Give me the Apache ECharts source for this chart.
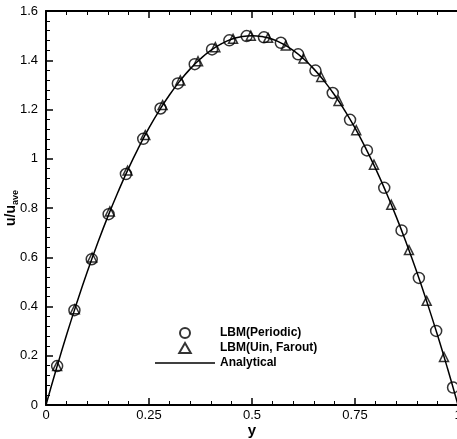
<!DOCTYPE html>
<html>
<head>
<meta charset="utf-8">
<script src="https://cdn.jsdelivr.net/npm/echarts@6/dist/echarts.min.js"></script>
<style>
html,body{margin:0;padding:0;background:#fff;}
#c{width:457px;height:439px;}
</style>
</head>
<body>
<div id="c"></div>
<script>
// Analytical profile
const anaY = [0,0.025,0.05,0.075,0.1,0.125,0.15,0.175,0.2,0.225,0.25,0.275,0.3,0.325,0.35,0.375,0.4,0.425,0.45,0.475,0.5,0.525,0.55,0.575,0.6,0.625,0.65,0.675,0.7,0.725,0.75,0.775,0.8,0.825,0.85,0.875,0.9,0.925,0.95,0.975,1];
const anaU = [0,0.146,0.285,0.416,0.54,0.656,0.765,0.866,0.96,1.046,1.125,1.196,1.26,1.316,1.365,1.406,1.44,1.466,1.485,1.496,1.5,1.496,1.485,1.466,1.44,1.406,1.365,1.316,1.26,1.196,1.125,1.046,0.96,0.866,0.765,0.656,0.54,0.416,0.285,0.146,0];
// LBM (Periodic) circles
const perY = [0.027,0.069,0.111,0.152,0.194,0.236,0.278,0.320,0.361,0.403,0.445,0.487,0.529,0.570,0.612,0.654,0.696,0.738,0.779,0.821,0.863,0.905,0.947,0.988];
const perU = [0.158,0.385,0.592,0.775,0.938,1.081,1.204,1.306,1.384,1.444,1.481,1.498,1.493,1.471,1.424,1.358,1.267,1.158,1.034,0.882,0.709,0.516,0.301,0.071];
// LBM (Uin, Farout) triangles
const uinY = [0.027,0.070,0.112,0.155,0.198,0.241,0.283,0.326,0.369,0.411,0.454,0.497,0.539,0.582,0.625,0.668,0.710,0.753,0.796,0.838,0.881,0.924,0.966];
const uinU = [0.158,0.389,0.599,0.786,0.952,1.096,1.218,1.318,1.396,1.453,1.487,1.500,1.491,1.460,1.407,1.332,1.235,1.116,0.976,0.813,0.629,0.423,0.195];
const xTicks = ['0','0.25','0.5','0.75','1'];
const yTicks = ['0','0.2','0.4','0.6','0.8','1','1.2','1.4','1.6'];

const zip = (a,b)=>a.map((v,i)=>[v,b[i]]);
const FONT = '"Liberation Sans", Arial, sans-serif';
const TRI = 'path://M0,-1L0.866,0.5L-0.866,0.5Z';
const chart = echarts.init(document.getElementById('c'));
const axisLine = {show:true, lineStyle:{color:'#000', width:2}};
chart.setOption({
  animation:false,
  backgroundColor:'#fff',
  grid:{left:46, right:-1, top:11, bottom:34, containLabel:false, outerBoundsMode:'none'},
  legend:{
    orient:'vertical', left:155, top:326, padding:0, itemWidth:60, itemHeight:10, itemGap:1,
    symbolKeepAspect:true,
    textStyle:{fontFamily:FONT, fontSize:12, fontWeight:'bold', color:'#000', lineHeight:14},
    data:[
      {name:'LBM(Periodic)', icon:'circle'},
      {name:'LBM(Uin, Farout)', icon:TRI},
      {name:'Analytical', icon:'path://M0,0L60,0L60,1.5L0,1.5Z', itemStyle:{color:'#000', borderWidth:0}}
    ]
  },
  xAxis:[{
    type:'value', min:0, max:1, interval:0.25,
    name:'y', nameLocation:'middle', nameGap:18, nameMoveOverlap:false,
    nameTextStyle:{fontFamily:FONT, fontSize:15, fontWeight:'bold', color:'#000'},
    axisLine:axisLine,
    axisTick:{show:true, inside:true, length:7, lineStyle:{color:'#000', width:1.5}},
    minorTick:{show:true, splitNumber:5, length:4, lineStyle:{color:'#000', width:1}},
    splitLine:{show:false},
    axisLabel:{fontFamily:FONT, fontSize:13, color:'#000', margin:4,
      formatter:v=>xTicks[Math.round(v/0.25)]}
  },{
    type:'value', position:'top', min:0, max:1, interval:0.25,
    axisLine:axisLine,
    axisTick:{show:true, inside:true, length:7, lineStyle:{color:'#000', width:1.5}},
    minorTick:{show:true, splitNumber:5, length:4, lineStyle:{color:'#000', width:1}},
    splitLine:{show:false}, axisLabel:{show:false}
  }],
  yAxis:{
    type:'value', min:0, max:1.6, interval:0.2,
    name:'{a|u/u}{s|ave}', nameLocation:'middle', nameGap:26, nameRotate:90, nameMoveOverlap:false,
    nameTextStyle:{rich:{
      a:{fontFamily:FONT, fontSize:14, fontWeight:'bold', color:'#000'},
      s:{fontFamily:FONT, fontSize:9, fontWeight:'bold', color:'#000', padding:[8,0,0,0]}
    }},
    axisLine:axisLine,
    axisTick:{show:true, inside:true, length:7, lineStyle:{color:'#000', width:1.5}},
    minorTick:{show:true, splitNumber:5, length:4, lineStyle:{color:'#000', width:1}},
    splitLine:{show:false},
    axisLabel:{fontFamily:FONT, fontSize:13, color:'#000', margin:8,
      formatter:v=>yTicks[Math.round(v/0.2)]}
  },
  series:[
    {name:'Analytical', type:'line', data:zip(anaY,anaU), showSymbol:false, symbol:'none',
      smooth:true, lineStyle:{color:'#000', width:1.5}, itemStyle:{color:'#000'}, z:1},
    {name:'LBM(Periodic)', type:'scatter', data:zip(perY,perU), symbol:'circle', symbolSize:11,
      itemStyle:{color:'rgba(0,0,0,0)', borderColor:'#000', borderWidth:1.5}, z:3},
    {name:'LBM(Uin, Farout)', type:'scatter', data:zip(uinY,uinU), symbol:TRI, symbolSize:9,
      itemStyle:{color:'rgba(0,0,0,0)', borderColor:'#000', borderWidth:1.5}, z:4}
  ]
});
</script>
</body>
</html>
